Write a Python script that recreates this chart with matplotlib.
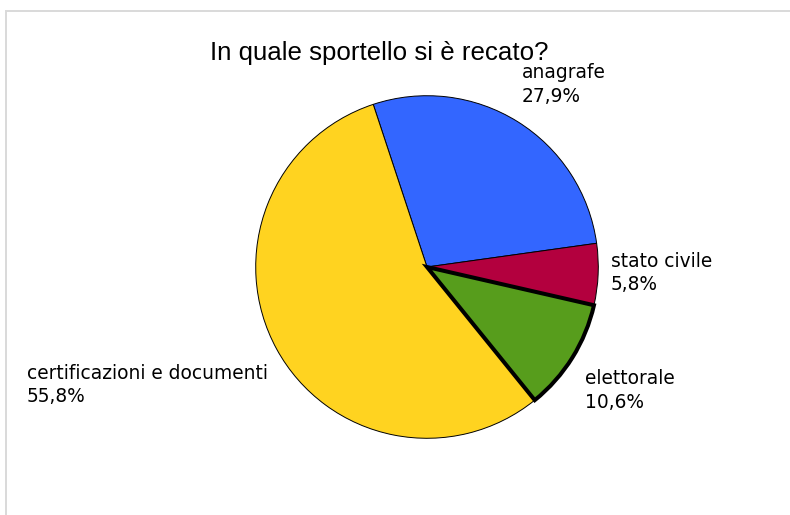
import matplotlib.pyplot as plt
from matplotlib.patches import Rectangle

# survey answers: which desk did the citizen visit
sportelli = ['anagrafe', 'stato civile', 'elettorale', 'certificazioni e documenti']
percentuali = [27.9, 5.8, 10.6, 55.8]
colori = ['#3366FF', '#B3003E', '#579D1C', '#FFD320']

W, H = 790, 515
fig = plt.figure(figsize=(W / 100, H / 100), dpi=100)

# light grey frame, open on the right and bottom
fig.patches.append(Rectangle((6 / W, -0.1), 1.2, 1.1 - 11 / H, transform=fig.transFigure,
                             fill=False, edgecolor='#D9D9D9', linewidth=1.4))

# pie placed in pixel terms: centre (427, 267), radius 173
cx, cy, r = 427, 267, 173
ax = fig.add_axes([(cx - r) / W, (H - cy - r) / H, 2 * r / W, 2 * r / H])
wedges, _ = ax.pie(percentuali, colors=colori, startangle=108.3, counterclock=False,
                   radius=1, wedgeprops={'edgecolor': 'black', 'linewidth': 0.7})
# "elettorale" slice is highlighted with a heavy outline
wedges[2].set_linewidth(2.9)
wedges[2].set_zorder(5)
ax.set_xlim(-1.01, 1.01)
ax.set_ylim(-1.01, 1.01)
ax.axis('off')

fig.text(379 / W, 1 - 60 / H, 'In quale sportello si è recato?', ha='center', va='baseline',
         fontsize=18.6, family='Liberation Sans', color='black')

# label anchors (left edge, top) in pixels
posizioni = [(522, 63), (611, 252), (585, 369), (27, 364)]
for nome, val, (px, py) in zip(sportelli, percentuali, posizioni):
    testo = f"{nome}\n{val:.1f}".replace('.', ',') + '%'
    fig.text(px / W, 1 - py / H, testo, ha='left', va='top', fontsize=13.4,
             family='DejaVu Sans', color='black', linespacing=1.3)

plt.savefig('out.png', dpi=100)
plt.close(fig)
